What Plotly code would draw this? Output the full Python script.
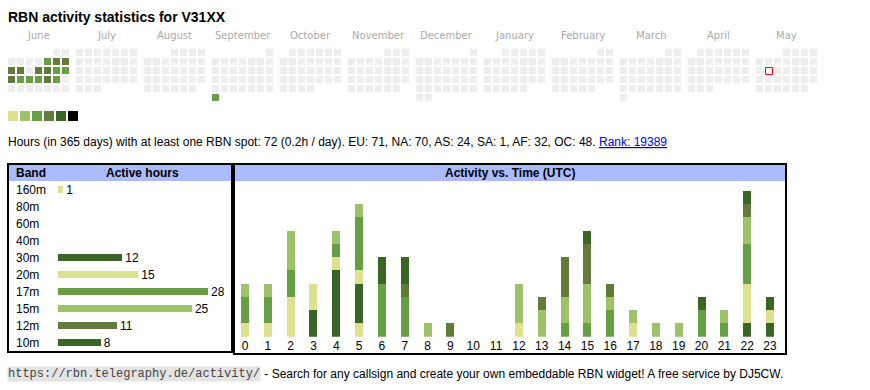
import datetime as dt
import plotly.graph_objects as go

# ---------------- data ----------------
TITLE = "RBN activity statistics for V31XX"
SUMMARY = ("Hours (in 365 days) with at least one RBN spot: 72 (0.2h / day). "
           "EU: 71, NA: 70, AS: 24, SA: 1, AF: 32, OC: 48. ")
RANK_TEXT = "Rank: 19389"
FOOTER_URL = "https://rbn.telegraphy.de/activity/"
FOOTER_TEXT = " - Search for any callsign and create your own embeddable RBN widget! A free service by DJ5CW."

level_colors = ["#dde08c", "#9ec26a", "#67a044", "#637a3a", "#3b6527", "#000000"]
empty_color = "#eeeeee"

month_names = ["June", "July", "August", "September", "October", "November",
               "December", "January", "February", "March", "April", "May"]
first_month = (2024, 6)
active_dates = ["2024-06-07", "2024-06-08", "2024-06-09", "2024-06-10", "2024-06-11",
                "2024-06-13", "2024-06-14", "2024-06-15", "2024-06-16", "2024-06-17",
                "2024-06-18", "2024-06-19", "2024-06-20", "2024-06-21", "2024-06-22",
                "2024-09-30"]
active_levels = [3, 4, 4, 4, 4, 4, 4, 3, 3, 4, 3, 3, 3, 4, 3, 3]
today = "2025-05-13"

band_names = ["160m", "80m", "60m", "40m", "30m", "20m", "17m", "15m", "12m", "10m"]
band_hours = [1, 0, 0, 0, 12, 15, 28, 25, 11, 8]
band_colors = ["#dde08c", "#9ec26a", "#67a044", "#637a3a", "#3b6527",
               "#dde08c", "#67a044", "#9ec26a", "#637a3a", "#3b6527"]

hour_labels = [str(h) for h in range(24)]
hours_160m = [0, 0, 0, 0, 0, 1, 0, 0, 0, 0, 0, 0, 0, 0, 0, 0, 0, 0, 0, 0, 0, 0, 0, 0]
hours_30m = [0, 0, 0, 2, 5, 3, 0, 0, 0, 0, 0, 0, 0, 0, 0, 0, 0, 0, 0, 0, 0, 0, 1, 1]
hours_20m = [1, 1, 3, 2, 1, 1, 0, 0, 0, 0, 0, 0, 1, 0, 0, 0, 0, 1, 0, 0, 0, 0, 3, 1]
hours_17m = [2, 2, 2, 0, 1, 4, 4, 3, 0, 0, 0, 0, 0, 0, 1, 1, 2, 0, 0, 0, 2, 1, 3, 0]
hours_15m = [1, 1, 3, 0, 1, 1, 0, 0, 1, 0, 0, 0, 3, 2, 2, 3, 1, 1, 1, 1, 0, 1, 2, 0]
hours_12m = [0, 0, 0, 0, 0, 0, 0, 1, 0, 1, 0, 0, 0, 1, 3, 3, 1, 0, 0, 0, 0, 0, 1, 0]
hours_10m = [0, 0, 0, 0, 0, 0, 2, 2, 0, 0, 0, 0, 0, 0, 0, 1, 0, 0, 0, 0, 1, 0, 1, 1]
hourly_series = [("160m", hours_160m), ("30m", hours_30m), ("20m", hours_20m),
                 ("17m", hours_17m), ("15m", hours_15m), ("12m", hours_12m),
                 ("10m", hours_10m)]

# ---------------- layout constants ----------------
W, H = 870, 390
FONT = "Liberation Sans, Arial, sans-serif"
CAL_X0, CAL_Y0, CELL, CELL_SIZE, MONTH_W = 8, 49, 9, 7, 68
HEADER_BLUE = "#aabbff"

fig = go.Figure()

# ---------------- calendar ----------------
level_by_date = dict(zip(active_dates, active_levels))
cx, cy, cc = [], [], []
today_xy = None
y0, m0 = first_month
for mi in range(12):
    yy = y0 + (m0 - 1 + mi) // 12
    mm = (m0 - 1 + mi) % 12 + 1
    d = dt.date(yy, mm, 1)
    first_wd = d.weekday()
    while d.month == mm:
        wd = d.weekday()
        row = (d.day - 1 + first_wd) // 7
        x = CAL_X0 + mi * MONTH_W + wd * CELL + CELL_SIZE / 2
        y = CAL_Y0 + row * CELL + CELL_SIZE / 2
        key = d.isoformat()
        lvl = level_by_date.get(key)
        cx.append(x)
        cy.append(y)
        cc.append(level_colors[lvl - 1] if lvl else empty_color)
        if key == today:
            today_xy = (x + 0.5, y + 0.5)
        d += dt.timedelta(days=1)

fig.add_trace(go.Scatter(x=cx, y=cy, mode="markers", xaxis="x", yaxis="y",
                         marker=dict(symbol="square", size=CELL_SIZE, color=cc,
                                     line=dict(width=0)),
                         hoverinfo="skip", showlegend=False))
if today_xy:
    fig.add_trace(go.Scatter(x=[today_xy[0]], y=[today_xy[1]], mode="markers",
                             xaxis="x", yaxis="y",
                             marker=dict(symbol="square", size=7, color="white",
                                         line=dict(width=1, color="red")),
                             hoverinfo="skip", showlegend=False))

# legend squares
fig.add_trace(go.Scatter(x=[8 + 5 + 12 * i for i in range(len(level_colors))],
                         y=[116] * len(level_colors), mode="markers",
                         xaxis="x", yaxis="y",
                         marker=dict(symbol="square", size=10, color=level_colors,
                                     line=dict(width=0)),
                         hoverinfo="skip", showlegend=False))

annotations = []


def txt(x, y, text, size=12, color="black", anchor="left", family=FONT, bold=False, **kw):
    annotations.append(dict(x=x, y=y, xref="x", yref="y", text=("<b>%s</b>" % text) if bold else text,
                            showarrow=False, xanchor=anchor, yanchor="middle",
                            font=dict(size=size, color=color, family=family), **kw))


for mi, name in enumerate(month_names):
    txt(CAL_X0 + mi * MONTH_W + 30.5, 35.5, name, size=10, color="#aaaaaa",
        anchor="center", family="DejaVu Sans, sans-serif")

txt(6, 16.5, TITLE, size=14, bold=True)
txt(6, 142, SUMMARY + '<a href="https://rbn.telegraphy.de/activity/" '
    'style="color:#0000ee;text-decoration:underline">' + RANK_TEXT + '</a>', size=12)

# ---------------- tables ----------------
shapes = [
    dict(type="rect", xref="x", yref="y", x0=9, x1=231, y0=165, y1=181,
         fillcolor=HEADER_BLUE, line=dict(width=0), layer="below"),
    dict(type="rect", xref="x", yref="y", x0=235, x1=785, y0=165, y1=181,
         fillcolor=HEADER_BLUE, line=dict(width=0), layer="below"),
    dict(type="rect", xref="x", yref="y", x0=8, x1=232, y0=164, y1=352,
         line=dict(width=2, color="black")),
    dict(type="rect", xref="x", yref="y", x0=234, x1=786, y0=164, y1=354,
         line=dict(width=2, color="black")),
]
txt(14, 173, "Band", bold=True)
txt(142, 173, "Active hours", bold=True, anchor="center")
txt(510, 173, "Activity vs. Time (UTC)", bold=True, anchor="center")

# band table rows labels
ROW_TOP, ROW_PITCH = 189.5, 17
for i, b in enumerate(band_names):
    txt(14, ROW_TOP + i * ROW_PITCH, b)

fig.add_trace(go.Bar(y=band_names, x=band_hours, orientation="h", xaxis="x2", yaxis="y2",
                     marker=dict(color=band_colors, line=dict(width=0)), width=0.41,
                     text=[str(v) if v else "" for v in band_hours],
                     textposition="outside", constraintext="none", cliponaxis=False,
                     textfont=dict(size=12, color="black", family=FONT),
                     hoverinfo="skip", showlegend=False))

# hourly stacked bars
for name, vals in hourly_series:
    fig.add_trace(go.Bar(x=list(range(24)), y=vals, xaxis="x3", yaxis="y3",
                         marker=dict(color=band_colors[band_names.index(name)],
                                     line=dict(width=0)),
                         width=0.35, hoverinfo="skip", showlegend=False, name=name))

# footer
txt(7, 373.5, FOOTER_URL, size=12, color="#444444", family="Liberation Mono, monospace",
    bgcolor="#e4e4e4", borderpad=0)
txt(259, 373.5, FOOTER_TEXT, size=12)

# ---------------- axes ----------------
hidden = dict(visible=False, fixedrange=True, showgrid=False, zeroline=False)
band_top, band_bot = ROW_TOP - ROW_PITCH / 2, ROW_TOP + 9 * ROW_PITCH + ROW_PITCH / 2
hour_base, hour_unit = 336.67, 13.25
hour_x0 = 245 - 22.826 / 2
hour_x1 = 770 + 22.826 / 2

fig.update_layout(
    width=W, height=H, margin=dict(l=0, r=0, t=0, b=0),
    paper_bgcolor="white", plot_bgcolor="rgba(0,0,0,0)",
    barmode="stack", bargap=0,
    font=dict(family=FONT, size=12, color="black"),
    xaxis=dict(hidden, range=[0, W], domain=[0, 1]),
    yaxis=dict(hidden, range=[H, 0], domain=[0, 1]),
    xaxis2=dict(hidden, range=[0, 28], domain=[58 / W, 208 / W], anchor="y2"),
    yaxis2=dict(hidden, type="category", categoryorder="array", categoryarray=band_names,
                range=[9.5, -0.5], domain=[(H - band_bot) / H, (H - band_top) / H],
                anchor="x2"),
    xaxis3=dict(visible=True, fixedrange=True, showgrid=False, zeroline=False,
                showline=False, ticks="", range=[-0.5, 23.5],
                tickmode="array", tickvals=list(range(24)), ticktext=hour_labels,
                tickfont=dict(size=12, color="black", family=FONT),
                domain=[hour_x0 / W, hour_x1 / W], anchor="y3"),
    yaxis3=dict(hidden, range=[0, 11.5],
                domain=[(H - hour_base) / H, (H - (hour_base - 11.5 * hour_unit)) / H],
                anchor="x3"),
    shapes=shapes, annotations=annotations, hovermode=False,
)

fig.write_html("out.html", config=dict(displayModeBar=False, staticPlot=True),
               post_script="document.body.style.margin='0px';document.body.style.overflow='hidden';")
